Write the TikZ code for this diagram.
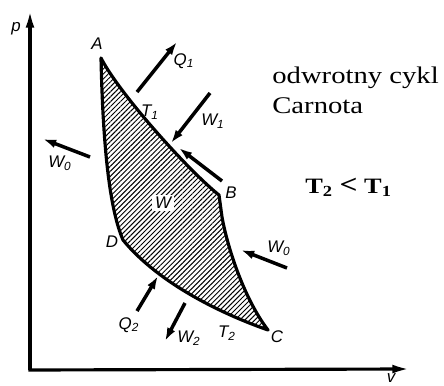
\documentclass[tikz,border=0pt]{standalone}
\usepackage{fontspec}
\setmainfont{Liberation Serif}
\newfontfamily\labfont{Liberation Sans}
\newfontfamily\ttext[FakeStretch=1.2]{Liberation Serif}
\usetikzlibrary{arrows.meta,patterns.meta}
\begin{document}
\begin{tikzpicture}[x=0.02cm,y=-0.02cm,
  axis/.style={line width=1.8pt,-{Latex[length=10pt,width=5pt]}},
  cyc/.style={line width=1.8pt,line join=round},
  flow/.style={line width=2pt,-{Latex[length=7.5pt,width=5pt]}},
  lab/.style={font=\labfont\itshape\fontsize{9.6}{11}\selectfont,inner sep=0pt},
  ttl/.style={font=\ttext\fontsize{13.6}{17}\selectfont,inner sep=0pt,anchor=base west}]
\useasboundingbox (0,0) rectangle (444,386);
% axes
\coordinate (O) at (30,370);
\coordinate (Pend) at (30,10);
\coordinate (Vend) at (410,369);
\draw[axis] (O) -- (Pend);
\draw[axis] ([xshift=-0.9pt]O) -- (Vend);
\node[lab] (p) at (16,29) {p};
\node[lab] (v) at (391,378) {v};
% cycle vertices
\coordinate (A) at (101,58);
\coordinate (B) at (219,195);
\coordinate (B2) at (222,217);
\coordinate (C) at (268,330);
\coordinate (D) at (123,240);
\fill[pattern={Lines[angle=45,distance=2pt,line width=0.55pt]}]
  (A) .. controls (120,95) and (190,172) .. (B) -- (B2)
  .. controls (228,250) and (245,300) .. (C)
  .. controls (225,315) and (160,285) .. (D)
  .. controls (110,210) and (103,150) .. (A) -- cycle;
\draw[cyc] (A) .. controls (120,95) and (190,172) .. (B) -- (B2)
  .. controls (228,250) and (245,300) .. (C)
  .. controls (225,315) and (160,285) .. (D)
  .. controls (110,210) and (103,150) .. (A) -- cycle;
% vertex labels
\node[lab] (lA) at (97,44) {A};
\node[lab] (lB) at (231,193) {B};
\node[lab] (lC) at (277,337) {C};
\node[lab] (lD) at (112,242) {D};
\node[lab,fill=white,inner sep=1.5pt] (lW) at (163,203) {W};
\node[lab] (lT1) at (150,112) {T\textsubscript{1}};
\node[lab] (lT2) at (227,333) {T\textsubscript{2}};
% flow arrows
\coordinate (q1s) at (137,92);  \coordinate (q1e) at (177,42);
\coordinate (w1s) at (210,93);  \coordinate (w1e) at (171,143);
\coordinate (wbs) at (222,181); \coordinate (wbe) at (179,148);
\coordinate (w0ls) at (90,157); \coordinate (w0le) at (43,139);
\coordinate (w0rs) at (287,268);\coordinate (w0re) at (241,250);
\coordinate (q2s) at (137,311); \coordinate (q2e) at (158,276);
\coordinate (w2s) at (185,303); \coordinate (w2e) at (165,341);
\draw[flow] (q1s) -- (q1e);
\draw[flow] (w1s) -- (w1e);
\draw[flow] (wbs) -- (wbe);
\draw[flow] (w0ls) -- (w0le);
\draw[flow] (w0rs) -- (w0re);
\draw[flow] (q2s) -- (q2e);
\draw[flow] (w2s) -- (w2e);
\node[lab] (lQ1) at (184,61) {Q\textsubscript{1}};
\node[lab] (lW1) at (213,121) {W\textsubscript{1}};
\node[lab] (lW0l) at (60,163) {W\textsubscript{0}};
\node[lab] (lW0r) at (279,248) {W\textsubscript{0}};
\node[lab] (lQ2) at (129,325) {Q\textsubscript{2}};
\node[lab] (lW2) at (189,338) {W\textsubscript{2}};
% texts
\node[ttl] (t1) at (272,83) {odwrotny cykl};
\node[ttl] (t2) at (272,113) {Carnota};
\node[font=\ttext\bfseries\fontsize{12.5}{14}\selectfont,inner sep=0pt,anchor=base west] (ineq) at (305,193) {T\textsubscript{2} {\fontsize{15}{15}\selectfont<} T\textsubscript{1}};
\end{tikzpicture}
\end{document}
